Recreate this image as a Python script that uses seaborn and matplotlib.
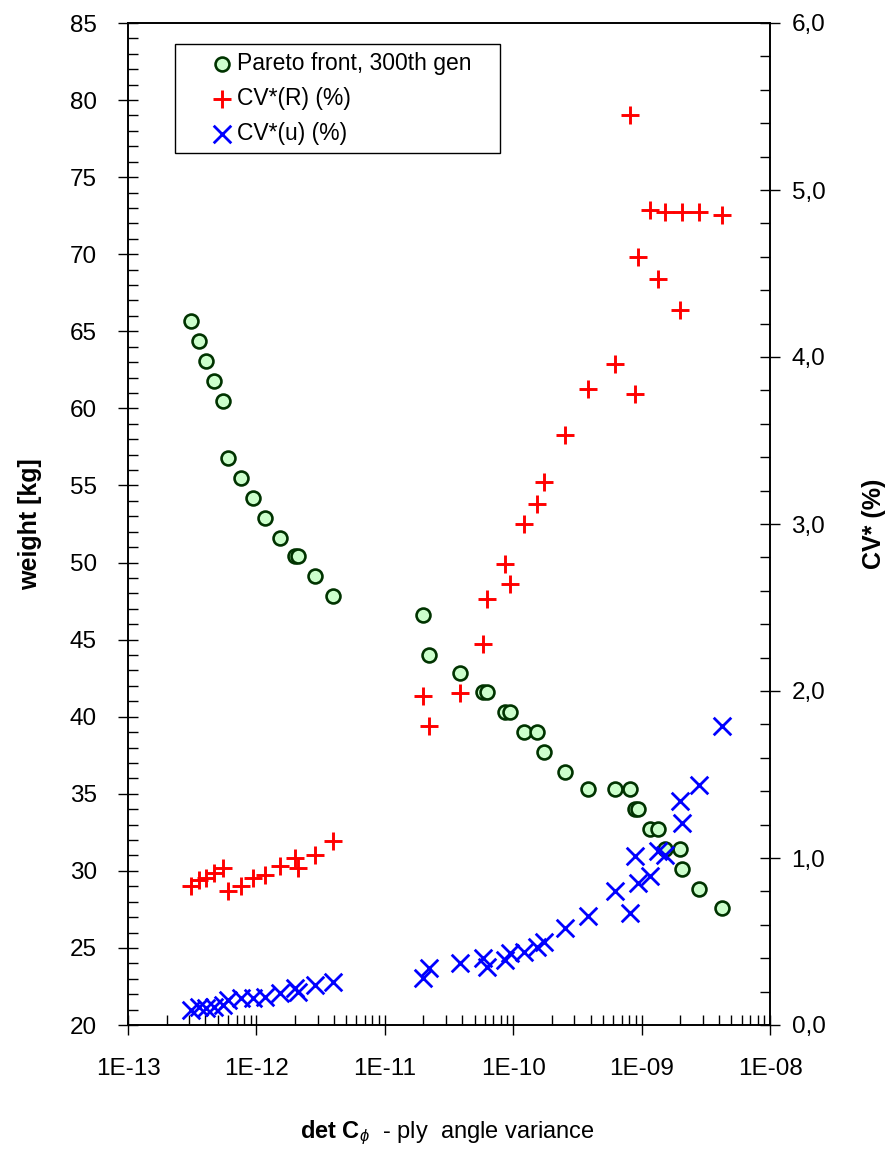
import numpy as np
import pandas as pd
import matplotlib
matplotlib.use("Agg")
import matplotlib.pyplot as plt
import seaborn as sns
from matplotlib.patches import Rectangle
from matplotlib.ticker import FixedLocator, MultipleLocator, LogLocator, FuncFormatter, NullFormatter

# Pareto front points (300th generation): det C_phi, weight and the two CV* values
det_c = [3.08e-13, 3.55e-13, 4.06e-13, 4.64e-13, 5.5e-13, 6.03e-13, 7.58e-13,
         9.44e-13, 1.17e-12, 1.54e-12, 2.0e-12, 2.11e-12, 2.88e-12, 3.93e-12,
         2.0e-11, 2.2e-11, 3.88e-11, 5.77e-11, 6.3e-11, 8.6e-11, 9.4e-11,
         1.22e-10, 1.52e-10, 1.75e-10, 2.55e-10, 3.85e-10, 6.25e-10, 8.15e-10,
         8.9e-10, 9.3e-10, 1.16e-9, 1.33e-9, 1.52e-9, 1.98e-9, 2.08e-9,
         2.82e-9, 4.2e-9]
weight = [65.7, 64.4, 63.1, 61.8, 60.5, 56.8, 55.5, 54.2, 52.9, 51.6, 50.4,
          50.4, 49.1, 47.8,
          46.6, 44.0, 42.85, 41.6, 41.6, 40.3, 40.3, 39.0, 39.0, 37.7, 36.4,
          35.3, 35.3, 35.3, 34.0, 34.0, 32.7, 32.7, 31.4, 31.4, 30.1, 28.8, 27.6]
cv_r = [0.83, 0.87, 0.88, 0.91, 0.94, 0.80, 0.83, 0.88, 0.90, 0.95, 1.00,
        0.94, 1.02, 1.10,
        1.97, 1.79, 1.99, 2.28, 2.55, 2.76, 2.64, 3.00, 3.12, 3.25, 3.53,
        3.81, 3.96, 5.45, 3.78, 4.60, 4.88, 4.47, 4.87, 4.28, 4.87, 4.87, 4.85]
cv_u = [0.09, 0.11, 0.10, 0.11, 0.12, 0.15, 0.16, 0.16, 0.17, 0.19, 0.22,
        0.20, 0.24, 0.26,
        0.28, 0.34, 0.37, 0.40, 0.35, 0.39, 0.43, 0.44, 0.47, 0.50, 0.58,
        0.65, 0.80, 0.67, 1.01, 0.85, 0.89, 1.04, 1.02, 1.34, 1.21, 1.44, 1.79]

x_ticks = [1e-13, 1e-12, 1e-11, 1e-10, 1e-9, 1e-8]
x_tick_labels = ["1E-13", "1E-12", "1E-11", "1E-10", "1E-09", "1E-08"]

df = pd.DataFrame({"det_c": det_c, "weight": weight, "cv_r": cv_r, "cv_u": cv_u})

sns.set_style("ticks")
plt.rcParams["font.family"] = ["Liberation Sans", "DejaVu Sans"]
plt.rcParams["mathtext.fontset"] = "custom"
plt.rcParams["mathtext.rm"] = "Liberation Sans"
plt.rcParams["mathtext.bf"] = "Liberation Sans:bold"
plt.rcParams["mathtext.it"] = "Liberation Sans:italic"
for key in ["text.color", "axes.labelcolor", "xtick.color", "ytick.color"]:
    plt.rcParams[key] = "black"

fig = plt.figure(figsize=(8.94, 11.55), dpi=100)
ax = fig.add_axes([128 / 894, 1 - 1025 / 1155, 642 / 894, 1002 / 1155])
ax2 = ax.twinx()

# weight (left axis)
sns.scatterplot(data=df, x="det_c", y="weight", ax=ax, marker="o", s=100,
                color="#ccffcc", edgecolor="#003300", linewidth=1.9,
                label="Pareto front, 300th gen", legend=False, zorder=3)

# CV* values (right axis)
sns.scatterplot(data=df, x="det_c", y="cv_r", ax=ax2, marker="+", s=180,
                color="#ff0000", linewidth=2.1, label="CV*(R) (%)", legend=False)
sns.scatterplot(data=df, x="det_c", y="cv_u", ax=ax2, marker="x", s=160,
                color="#0000ff", linewidth=2.0, label="CV*(u) (%)", legend=False)

ax.set_xscale("log")
ax.set_xlim(1e-13, 1e-8)
ax.set_ylim(20, 85)
ax2.set_ylim(0, 6)

ax.xaxis.set_major_locator(FixedLocator(x_ticks))
ax.set_xticklabels(x_tick_labels)
ax.xaxis.set_minor_locator(LogLocator(base=10, subs=np.arange(2, 10)))
ax.xaxis.set_minor_formatter(NullFormatter())
ax.yaxis.set_major_locator(MultipleLocator(5))
ax.yaxis.set_minor_locator(MultipleLocator(1))
ax2.yaxis.set_major_locator(MultipleLocator(1))
ax2.yaxis.set_minor_locator(MultipleLocator(0.2))
ax2.yaxis.set_major_formatter(FuncFormatter(lambda v, p: f"{v:.1f}".replace(".", ",")))

ax.tick_params(axis="both", which="major", direction="inout", length=15,
               width=1.0, labelsize=17.5)
ax.tick_params(axis="y", which="major", pad=15)
ax.tick_params(axis="x", which="major", pad=16)
ax.tick_params(axis="both", which="minor", direction="in", length=7, width=1.0)
ax2.tick_params(axis="y", which="major", direction="inout", length=15,
                width=1.0, labelsize=17.5, pad=8)
ax2.tick_params(axis="y", which="minor", direction="in", length=7, width=1.0)

for a in (ax, ax2):
    for sp in a.spines.values():
        sp.set_visible(True)
        sp.set_color("black")
        sp.set_linewidth(1.2)

ax.set_ylabel("weight [kg]", fontsize=18, fontweight="bold")
ax.yaxis.set_label_coords(-0.134, 0.5)
ax2.set_ylabel("CV* (%)", fontsize=18, fontweight="bold")
ax2.yaxis.set_label_coords(1.143, 0.5)
ax.set_xlabel(r"$\mathbf{det\ C}_{\phi}$" + "  - ply  angle variance", fontsize=17)
ax.xaxis.set_label_coords(0.498, -0.093)

# legend: entries without frame, plus a separate wider box around them
h1, l1 = ax.get_legend_handles_labels()
h2, l2 = ax2.get_legend_handles_labels()
leg = ax2.legend(h1 + h2, l1 + l2, loc="upper left",
                 bbox_to_anchor=(0.112, 0.979), borderaxespad=0,
                 fontsize=16.5, frameon=False,
                 handlelength=1.2, handletextpad=0.05, borderpad=0.35,
                 labelspacing=0.52)
ax2.add_patch(Rectangle((0.0732, 0.870), 0.5062, 0.109, transform=ax2.transAxes,
                        facecolor="white", edgecolor="black", linewidth=1.0,
                        zorder=4))
leg.set_zorder(5)

fig.savefig("out.png", dpi=100)
plt.close(fig)
